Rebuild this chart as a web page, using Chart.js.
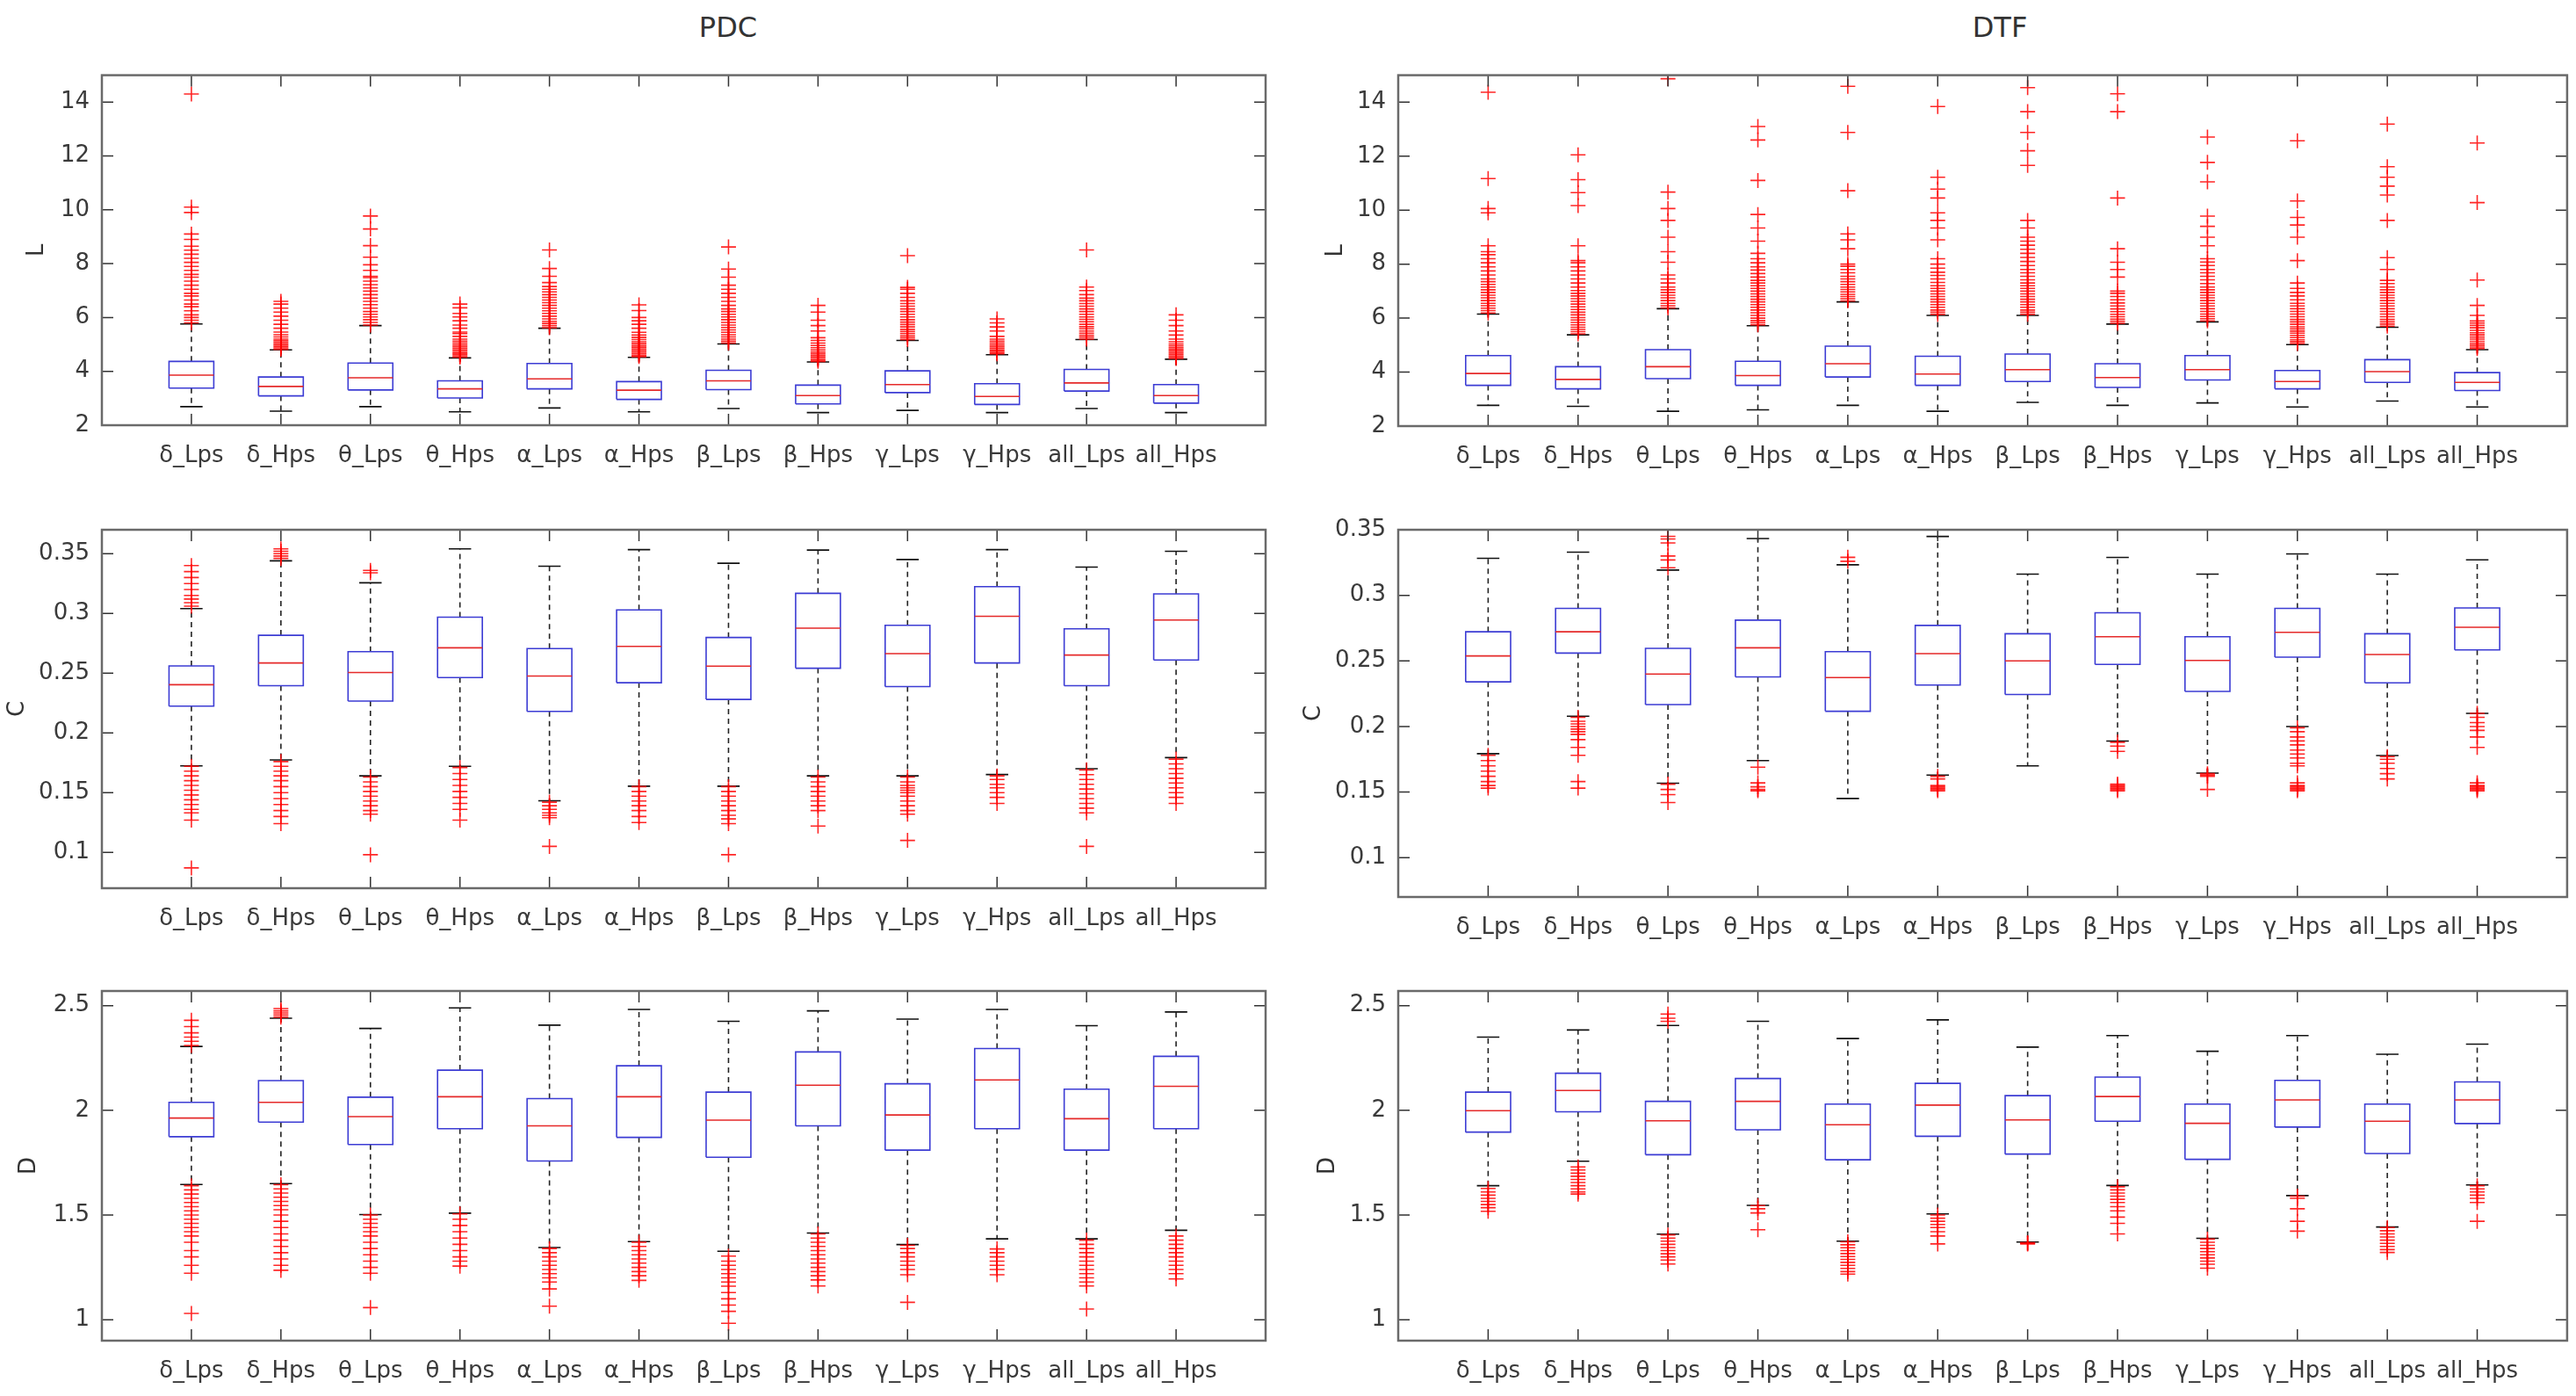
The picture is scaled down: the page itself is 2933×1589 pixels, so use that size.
<!DOCTYPE html>
<html>
<head>
<meta charset="utf-8">
<script src="https://cdn.jsdelivr.net/npm/chart.js@4.4.0/dist/chart.umd.min.js"></script>
<style>
  html, body { margin: 0; padding: 0; background: #fff; }
  body { width: 2933px; height: 1589px; position: relative; overflow: hidden; font-family: "DejaVu Sans", sans-serif; }
  canvas { position: absolute; }
  .title { position: absolute; top: 10px; font-size: 32px; line-height: 42px; color: #333; transform: translateX(-50%); }
</style>
</head>
<body>
<div class="title" style="left:829px">PDC</div>
<div class="title" style="left:2277px">DTF</div>
<canvas id="c0"></canvas>
<canvas id="c1"></canvas>
<canvas id="c2"></canvas>
<canvas id="c3"></canvas>
<canvas id="c4"></canvas>
<canvas id="c5"></canvas>
<script>
const CATS = ["δ_Lps", "δ_Hps", "θ_Lps", "θ_Hps", "α_Lps", "α_Hps", "β_Lps", "β_Hps", "γ_Lps", "γ_Hps", "all_Lps", "all_Hps"];

const L_TICKS = [2, 4, 6, 8, 10, 12, 14];
const C_TICKS = [0.1, 0.15, 0.2, 0.25, 0.3, 0.35];
const D_TICKS = [1, 1.5, 2, 2.5];

// each row: [lower whisker, q1, median, q3, upper whisker]
const PDC_L_STATS = [
  [2.69, 3.38, 3.86, 4.37, 5.76], [2.52, 3.09, 3.44, 3.79, 4.8], [2.69, 3.31, 3.76, 4.31, 5.7],
  [2.5, 3.01, 3.35, 3.65, 4.5], [2.64, 3.35, 3.72, 4.29, 5.6], [2.5, 2.96, 3.3, 3.62, 4.52],
  [2.62, 3.32, 3.65, 4.04, 5.02], [2.47, 2.79, 3.1, 3.49, 4.35], [2.55, 3.21, 3.51, 4.02, 5.15],
  [2.47, 2.77, 3.07, 3.54, 4.62], [2.62, 3.27, 3.57, 4.07, 5.18], [2.47, 2.82, 3.1, 3.51, 4.45]
];
const PDC_L_OUT = [
  [5.8, 5.9, 6.0, 6.1, 6.25, 6.4, 6.5, 6.65, 6.8, 6.9, 7.05, 7.2, 7.35, 7.5, 7.6, 7.75, 7.9, 8.05, 8.2, 8.35, 8.5, 8.65, 8.9, 9.1, 9.9, 10.1, 14.3],
  [4.82, 4.87, 4.92, 4.97, 5.02, 5.08, 5.14, 5.2, 5.28, 5.36, 5.46, 5.6, 5.75, 5.9, 6.05, 6.2, 6.35, 6.5, 6.6],
  [5.72, 5.82, 5.92, 6.02, 6.12, 6.22, 6.35, 6.48, 6.6, 6.72, 6.85, 6.98, 7.1, 7.22, 7.35, 7.48, 7.53, 7.75, 7.96, 8.24, 8.67, 9.29, 9.77],
  [4.53, 4.58, 4.63, 4.68, 4.74, 4.8, 4.86, 4.92, 4.98, 5.05, 5.12, 5.2, 5.3, 5.4, 5.46, 5.6, 5.72, 5.88, 6.02, 6.15, 6.36, 6.5],
  [5.62, 5.7, 5.78, 5.86, 5.95, 6.05, 6.15, 6.25, 6.35, 6.45, 6.55, 6.65, 6.75, 6.85, 6.95, 7.05, 7.15, 7.3, 7.53, 7.82, 8.51],
  [4.55, 4.6, 4.66, 4.72, 4.78, 4.84, 4.9, 4.96, 5.03, 5.1, 5.18, 5.26, 5.35, 5.45, 5.6, 5.75, 5.88, 6.0, 6.26, 6.47],
  [5.05, 5.12, 5.2, 5.28, 5.36, 5.45, 5.54, 5.63, 5.72, 5.82, 5.92, 6.02, 6.12, 6.22, 6.32, 6.45, 6.6, 6.75, 6.9, 7.05, 7.2, 7.5, 7.8, 8.62],
  [4.37, 4.42, 4.48, 4.54, 4.6, 4.66, 4.72, 4.8, 4.88, 4.96, 5.05, 5.15, 5.25, 5.5, 5.7, 5.9, 6.2, 6.45],
  [5.18, 5.25, 5.32, 5.4, 5.48, 5.56, 5.65, 5.74, 5.83, 5.92, 6.02, 6.12, 6.22, 6.32, 6.42, 6.52, 6.62, 6.75, 6.9, 7.05, 7.12, 8.3],
  [4.65, 4.7, 4.75, 4.8, 4.86, 4.92, 4.98, 5.05, 5.12, 5.2, 5.3, 5.5, 5.65, 5.8, 5.95],
  [5.2, 5.27, 5.34, 5.42, 5.5, 5.58, 5.66, 5.75, 5.84, 5.93, 6.02, 6.12, 6.22, 6.32, 6.42, 6.52, 6.62, 6.72, 6.85, 7.0, 7.13, 8.51],
  [4.48, 4.53, 4.58, 4.64, 4.7, 4.76, 4.82, 4.88, 4.95, 5.02, 5.1, 5.2, 5.35, 5.5, 5.7, 5.9, 6.1]
];

const DTF_L_STATS = [
  [2.77, 3.51, 3.95, 4.61, 6.15], [2.73, 3.38, 3.73, 4.2, 5.38], [2.55, 3.76, 4.2, 4.83, 6.35],
  [2.6, 3.51, 3.87, 4.4, 5.72], [2.77, 3.82, 4.31, 4.96, 6.6], [2.55, 3.51, 3.93, 4.59, 6.1],
  [2.88, 3.65, 4.09, 4.67, 6.1], [2.77, 3.43, 3.8, 4.31, 5.78], [2.86, 3.71, 4.09, 4.61, 5.86],
  [2.71, 3.38, 3.65, 4.06, 5.02], [2.93, 3.62, 4.02, 4.46, 5.66], [2.71, 3.32, 3.62, 3.98, 4.83]
];
const DTF_L_OUT = [
  [6.19, 6.28, 6.37, 6.46, 6.55, 6.65, 6.75, 6.85, 6.95, 7.05, 7.15, 7.25, 7.35, 7.45, 7.6, 7.75, 7.9, 8.05, 8.2, 8.35, 8.46, 8.68, 9.9, 10.06, 11.17, 14.37],
  [5.42, 5.5, 5.58, 5.66, 5.75, 5.84, 5.93, 6.02, 6.12, 6.22, 6.32, 6.42, 6.52, 6.62, 6.72, 6.82, 6.92, 7.02, 7.15, 7.3, 7.45, 7.6, 7.75, 7.9, 8.05, 8.13, 8.68, 10.17, 10.65, 11.13, 12.05],
  [6.38, 6.46, 6.55, 6.65, 6.75, 6.85, 6.95, 7.05, 7.15, 7.3, 7.45, 7.6, 8.07, 8.46, 9.0, 9.62, 10.06, 10.67, 14.87],
  [5.75, 5.83, 5.91, 6.0, 6.1, 6.2, 6.3, 6.4, 6.5, 6.6, 6.7, 6.8, 6.9, 7.0, 7.1, 7.2, 7.3, 7.4, 7.52, 7.65, 7.78, 7.9, 8.05, 8.2, 8.4, 8.85, 9.34, 9.84, 11.1, 12.6, 13.1],
  [6.64, 6.72, 6.8, 6.88, 6.97, 7.06, 7.15, 7.25, 7.35, 7.45, 7.55, 7.68, 7.8, 7.92, 8.0, 8.57, 8.9, 9.12, 10.72, 12.88, 14.59],
  [6.14, 6.22, 6.3, 6.4, 6.5, 6.6, 6.7, 6.8, 6.9, 7.0, 7.1, 7.2, 7.32, 7.45, 7.58, 7.7, 7.85, 8.0, 8.2, 8.9, 9.34, 9.62, 9.9, 10.45, 10.78, 11.22, 13.84],
  [6.14, 6.22, 6.3, 6.4, 6.5, 6.6, 6.7, 6.8, 6.9, 7.0, 7.1, 7.2, 7.3, 7.42, 7.55, 7.68, 7.8, 7.95, 8.1, 8.25, 8.4, 8.55, 8.7, 8.85, 9.0, 9.34, 9.62, 11.66, 12.2, 12.88, 13.65, 14.54],
  [5.81, 5.88, 5.96, 6.05, 6.14, 6.24, 6.34, 6.45, 6.56, 6.68, 6.8, 6.92, 7.0, 7.52, 7.8, 8.07, 8.57, 10.45, 13.65, 14.31],
  [5.9, 5.98, 6.06, 6.15, 6.25, 6.35, 6.45, 6.55, 6.65, 6.75, 6.85, 6.95, 7.05, 7.15, 7.28, 7.42, 7.55, 7.68, 7.8, 7.95, 8.08, 8.2, 8.68, 9.0, 9.4, 9.78, 11.05, 11.77, 12.71],
  [5.06, 5.13, 5.2, 5.28, 5.36, 5.44, 5.52, 5.6, 5.68, 5.77, 5.86, 5.95, 6.05, 6.15, 6.25, 6.35, 6.45, 6.55, 6.68, 6.82, 6.95, 7.1, 7.3, 8.13, 9.0, 9.45, 9.73, 10.34, 12.57],
  [5.7, 5.78, 5.86, 5.95, 6.05, 6.15, 6.25, 6.35, 6.45, 6.55, 6.65, 6.75, 6.85, 6.95, 7.05, 7.15, 7.28, 7.4, 7.8, 8.24, 9.62, 10.56, 10.89, 11.22, 11.61, 13.19],
  [4.87, 4.93, 5.0, 5.07, 5.14, 5.22, 5.3, 5.38, 5.46, 5.55, 5.64, 5.73, 5.82, 5.9, 6.1, 6.47, 7.41, 10.28, 12.49]
];

const PDC_C_STATS = [
  [0.1724, 0.2224, 0.2403, 0.256, 0.304], [0.1773, 0.2395, 0.2585, 0.2817, 0.344], [0.164, 0.2266, 0.2505, 0.268, 0.3256],
  [0.172, 0.2463, 0.2712, 0.2968, 0.354], [0.1432, 0.218, 0.2476, 0.2705, 0.3395], [0.1554, 0.242, 0.2724, 0.3029, 0.3534],
  [0.1554, 0.228, 0.2559, 0.2798, 0.342], [0.164, 0.2541, 0.2876, 0.3168, 0.353], [0.164, 0.2388, 0.2663, 0.29, 0.3451],
  [0.1651, 0.2585, 0.2976, 0.3224, 0.3534], [0.17, 0.2395, 0.2651, 0.2871, 0.3388], [0.1793, 0.261, 0.2944, 0.3163, 0.352]
];
const PDC_C_OUT = [
  [0.172, 0.168, 0.164, 0.16, 0.156, 0.152, 0.148, 0.144, 0.14, 0.136, 0.133, 0.127, 0.087, 0.306, 0.309, 0.312, 0.315, 0.32, 0.325, 0.33, 0.335, 0.34],
  [0.176, 0.172, 0.168, 0.164, 0.16, 0.155, 0.15, 0.145, 0.14, 0.135, 0.13, 0.124, 0.346, 0.348, 0.35, 0.352, 0.354],
  [0.163, 0.159, 0.155, 0.151, 0.147, 0.143, 0.139, 0.135, 0.132, 0.098, 0.334, 0.336],
  [0.171, 0.166, 0.161, 0.156, 0.151, 0.146, 0.141, 0.136, 0.127],
  [0.142, 0.139, 0.136, 0.133, 0.131, 0.129, 0.105],
  [0.155, 0.151, 0.147, 0.143, 0.139, 0.135, 0.13, 0.125],
  [0.155, 0.151, 0.147, 0.143, 0.139, 0.135, 0.131, 0.128, 0.124, 0.098],
  [0.163, 0.159, 0.155, 0.151, 0.147, 0.143, 0.139, 0.135, 0.122],
  [0.163, 0.159, 0.156, 0.154, 0.152, 0.15, 0.147, 0.143, 0.139, 0.135, 0.132, 0.11],
  [0.164, 0.161, 0.157, 0.154, 0.15, 0.146, 0.141],
  [0.169, 0.165, 0.161, 0.157, 0.153, 0.149, 0.145, 0.141, 0.137, 0.133, 0.105],
  [0.178, 0.174, 0.17, 0.166, 0.162, 0.158, 0.154, 0.15, 0.146, 0.141]
];

const DTF_C_STATS = [
  [0.1793, 0.234, 0.2538, 0.2722, 0.3282], [0.2078, 0.256, 0.2722, 0.29, 0.3329], [0.1567, 0.2167, 0.24, 0.2596, 0.3193],
  [0.174, 0.2378, 0.26, 0.2811, 0.3433], [0.1451, 0.2116, 0.2373, 0.2571, 0.3233], [0.1629, 0.2316, 0.2556, 0.2771, 0.3449],
  [0.17, 0.2244, 0.25, 0.2707, 0.3162], [0.1889, 0.2473, 0.2684, 0.2867, 0.3289], [0.1644, 0.2267, 0.2504, 0.2684, 0.3162],
  [0.2, 0.2529, 0.2718, 0.29, 0.3316], [0.1778, 0.2333, 0.2549, 0.2707, 0.3162], [0.21, 0.2584, 0.2756, 0.2904, 0.3271]
];
const DTF_C_OUT = [
  [0.178, 0.174, 0.17, 0.166, 0.162, 0.158, 0.155, 0.153],
  [0.207, 0.204, 0.202, 0.2, 0.198, 0.196, 0.194, 0.19, 0.184, 0.178, 0.158, 0.153],
  [0.156, 0.152, 0.148, 0.142, 0.321, 0.327, 0.33, 0.34, 0.343, 0.345],
  [0.169, 0.157, 0.154, 0.152, 0.151],
  [0.326, 0.329],
  [0.162, 0.16, 0.155, 0.154, 0.153, 0.152, 0.151],
  [],
  [0.188, 0.185, 0.181, 0.156, 0.155, 0.154, 0.153, 0.152, 0.151],
  [0.164, 0.163, 0.162, 0.152],
  [0.199, 0.196, 0.192, 0.189, 0.186, 0.182, 0.179, 0.176, 0.172, 0.17, 0.157, 0.155, 0.154, 0.153, 0.152, 0.151],
  [0.177, 0.175, 0.172, 0.168, 0.164, 0.16],
  [0.21, 0.207, 0.203, 0.2, 0.197, 0.192, 0.184, 0.157, 0.155, 0.154, 0.153, 0.152, 0.151]
];

const PDC_D_STATS = [
  [1.646, 1.874, 1.963, 2.038, 2.305], [1.65, 1.944, 2.038, 2.142, 2.44], [1.502, 1.837, 1.97, 2.063, 2.391],
  [1.509, 1.912, 2.065, 2.192, 2.489], [1.345, 1.758, 1.926, 2.056, 2.407], [1.373, 1.871, 2.065, 2.213, 2.482],
  [1.327, 1.776, 1.953, 2.087, 2.425], [1.414, 1.926, 2.12, 2.279, 2.475], [1.359, 1.81, 1.978, 2.127, 2.436],
  [1.386, 1.912, 2.145, 2.295, 2.482], [1.386, 1.81, 1.96, 2.101, 2.404], [1.427, 1.912, 2.115, 2.258, 2.47]
];
const PDC_D_OUT = [
  [1.64, 1.62, 1.6, 1.58, 1.56, 1.54, 1.52, 1.5, 1.48, 1.46, 1.44, 1.42, 1.4, 1.37, 1.33, 1.3, 1.26, 1.222, 1.03, 2.31, 2.33, 2.35, 2.37, 2.4, 2.43],
  [1.645, 1.625, 1.605, 1.585, 1.565, 1.545, 1.525, 1.5, 1.47, 1.44, 1.41, 1.38, 1.35, 1.32, 1.29, 1.26, 1.236, 2.445, 2.455, 2.465, 2.475, 2.486],
  [1.5, 1.48, 1.46, 1.44, 1.42, 1.4, 1.37, 1.34, 1.31, 1.28, 1.25, 1.222, 1.058],
  [1.505, 1.48, 1.45, 1.42, 1.39, 1.36, 1.33, 1.3, 1.28, 1.256],
  [1.34, 1.32, 1.3, 1.28, 1.26, 1.24, 1.22, 1.2, 1.18, 1.147, 1.065],
  [1.37, 1.35, 1.33, 1.31, 1.29, 1.27, 1.25, 1.23, 1.21, 1.188],
  [1.304, 1.28, 1.26, 1.24, 1.22, 1.2, 1.18, 1.16, 1.13, 1.1, 1.07, 1.04, 0.983],
  [1.41, 1.39, 1.37, 1.35, 1.33, 1.31, 1.29, 1.27, 1.25, 1.23, 1.21, 1.19, 1.161],
  [1.355, 1.34, 1.32, 1.3, 1.28, 1.26, 1.24, 1.215, 1.083],
  [1.338, 1.32, 1.3, 1.28, 1.26, 1.24, 1.215],
  [1.38, 1.36, 1.34, 1.32, 1.3, 1.28, 1.26, 1.24, 1.22, 1.2, 1.18, 1.161, 1.051],
  [1.4, 1.38, 1.36, 1.34, 1.32, 1.3, 1.28, 1.26, 1.24, 1.22, 1.195]
];

const DTF_D_STATS = [
  [1.64, 1.896, 1.998, 2.087, 2.35], [1.757, 1.993, 2.095, 2.177, 2.384], [1.409, 1.788, 1.95, 2.043, 2.405],
  [1.546, 1.907, 2.043, 2.152, 2.425], [1.375, 1.764, 1.931, 2.03, 2.343], [1.505, 1.876, 2.025, 2.129, 2.432],
  [1.371, 1.791, 1.954, 2.07, 2.302], [1.641, 1.948, 2.066, 2.159, 2.357], [1.389, 1.766, 1.938, 2.03, 2.282],
  [1.593, 1.92, 2.05, 2.143, 2.357], [1.443, 1.794, 1.948, 2.03, 2.268], [1.644, 1.937, 2.05, 2.136, 2.316]
];
const DTF_D_OUT = [
  [1.627, 1.61, 1.595, 1.58, 1.565, 1.55, 1.535, 1.518],
  [1.73, 1.715, 1.7, 1.685, 1.67, 1.655, 1.64, 1.625, 1.61, 1.6],
  [1.405, 1.39, 1.375, 1.36, 1.345, 1.33, 1.315, 1.3, 1.285, 1.266, 2.425, 2.44, 2.46],
  [1.545, 1.53, 1.51, 1.43],
  [1.372, 1.358, 1.344, 1.33, 1.316, 1.302, 1.288, 1.274, 1.26, 1.245, 1.23, 1.218],
  [1.5, 1.485, 1.47, 1.455, 1.44, 1.42, 1.4, 1.362],
  [1.368, 1.365, 1.362],
  [1.635, 1.62, 1.605, 1.59, 1.575, 1.56, 1.54, 1.52, 1.49, 1.46, 1.41],
  [1.385, 1.37, 1.355, 1.34, 1.325, 1.31, 1.295, 1.28, 1.265, 1.246],
  [1.59, 1.58, 1.53, 1.47, 1.423],
  [1.44, 1.425, 1.41, 1.395, 1.38, 1.365, 1.35, 1.335, 1.321],
  [1.64, 1.625, 1.61, 1.595, 1.58, 1.56, 1.47]
];

// page geometry of each panel (canvas box, plot area, y-label centre)
const panels = [
  { id: "c0", stats: PDC_L_STATS, out: PDC_L_OUT, label: "L", ticks: L_TICKS, min: 2, max: 15,
    box: [0, 56, 1466, 504], area: [116, 78, 1441, 484], labelX: 42 },
  { id: "c1", stats: DTF_L_STATS, out: DTF_L_OUT, label: "L", ticks: L_TICKS, min: 2, max: 15,
    box: [1466, 56, 1467, 504], area: [1592, 78, 2925, 485], labelX: 1521 },
  { id: "c2", stats: PDC_C_STATS, out: PDC_C_OUT, label: "C", ticks: C_TICKS, min: 0.07, max: 0.37,
    box: [0, 560, 1466, 520], area: [116, 603, 1441, 1011], labelX: 20 },
  { id: "c3", stats: DTF_C_STATS, out: DTF_C_OUT, label: "C", ticks: C_TICKS, min: 0.07, max: 0.35,
    box: [1466, 560, 1467, 520], area: [1592, 603, 2925, 1021], labelX: 1496 },
  { id: "c4", stats: PDC_D_STATS, out: PDC_D_OUT, label: "D", ticks: D_TICKS, min: 0.9, max: 2.57,
    box: [0, 1080, 1466, 509], area: [116, 1128, 1441, 1526], labelX: 33 },
  { id: "c5", stats: DTF_D_STATS, out: DTF_D_OUT, label: "D", ticks: D_TICKS, min: 0.9, max: 2.57,
    box: [1466, 1080, 1467, 509], area: [1592, 1128, 2925, 1526], labelX: 1512 }
];

const HALF = 0.25;   // half box width, in category units
const CAP = 0.125;   // half whisker-cap width
const TITLE_SIZE = 26;
const TITLE_LH = TITLE_SIZE * 1.2;

Chart.defaults.font.family = '"DejaVu Sans", sans-serif';
Chart.defaults.color = "#333";

// axes box with inward ticks on all four sides, like the original figure
const framePlugin = {
  id: "frame",
  afterDraw(chart) {
    const { ctx, chartArea: a, scales: { x, y } } = chart;
    const len = 13;
    ctx.save();
    ctx.strokeStyle = "#333";
    ctx.lineWidth = 1.5;
    ctx.beginPath();
    x.ticks.forEach(t => {
      const px = x.getPixelForValue(t.value);
      ctx.moveTo(px, a.bottom); ctx.lineTo(px, a.bottom - len);
      ctx.moveTo(px, a.top); ctx.lineTo(px, a.top + len);
    });
    y.ticks.forEach(t => {
      const py = y.getPixelForValue(t.value);
      ctx.moveTo(a.left, py); ctx.lineTo(a.left + len, py);
      ctx.moveTo(a.right, py); ctx.lineTo(a.right - len, py);
    });
    ctx.stroke();
    ctx.strokeStyle = "#6a6a6a";
    ctx.lineWidth = 2.5;
    ctx.strokeRect(a.left, a.top, a.right - a.left, a.bottom - a.top);
    ctx.restore();
  }
};

function makeChart(p) {
  const [cx, cy, cw, ch] = p.box;
  const [L, T, R, B] = p.area;
  const canvas = document.getElementById(p.id);
  canvas.width = cw;
  canvas.height = ch;
  canvas.style.left = cx + "px";
  canvas.style.top = cy + "px";
  canvas.style.width = cw + "px";
  canvas.style.height = ch + "px";

  const padLeft = p.labelX - cx - TITLE_LH / 2;
  const yWidth = L - cx - padLeft;
  const xHeight = cy + ch - B;

  const whiskers = [], caps = [], boxes = [], medians = [], outliers = [];
  p.stats.forEach(([lo, q1, med, q3, hi], i) => {
    const x = i + 1;
    whiskers.push({ x, y: q3 }, { x, y: hi }, { x, y: null }, { x, y: q1 }, { x, y: lo }, { x, y: null });
    caps.push({ x: x - CAP, y: hi }, { x: x + CAP, y: hi }, { x, y: null },
              { x: x - CAP, y: lo }, { x: x + CAP, y: lo }, { x, y: null });
    boxes.push({ x: x - HALF, y: q1 }, { x: x + HALF, y: q1 }, { x: x + HALF, y: q3 },
               { x: x - HALF, y: q3 }, { x: x - HALF, y: q1 }, { x, y: null });
    medians.push({ x: x - HALF, y: med }, { x: x + HALF, y: med }, { x, y: null });
    p.out[i].forEach(v => outliers.push({ x, y: v }));
  });

  const seg = (data, color, dash) => ({
    type: "line", data, borderColor: color, borderWidth: 1.6, borderDash: dash || [],
    pointRadius: 0, fill: false, tension: 0, spanGaps: false
  });

  new Chart(canvas, {
    data: {
      datasets: [
        { type: "scatter", data: outliers, pointStyle: "cross", pointRadius: 8.5,
          pointBorderWidth: 1.6, pointBorderColor: "rgba(255,0,0,0.85)", pointBackgroundColor: "rgba(0,0,0,0)" },
        seg(medians, "#e52a2a"),
        seg(boxes, "#3c3cd4"),
        seg(caps, "#111"),
        seg(whiskers, "#222", [6, 5])
      ]
    },
    options: {
      responsive: false,
      animation: false,
      events: [],
      layout: { padding: { left: padLeft, top: T - cy, right: cx + cw - R, bottom: 0 } },
      plugins: { legend: { display: false }, tooltip: { enabled: false } },
      scales: {
        x: {
          type: "linear", min: 0, max: 13,
          grid: { display: false, drawTicks: false },
          border: { display: false },
          afterBuildTicks: s => { s.ticks = CATS.map((c, i) => ({ value: i + 1 })); },
          afterFit: s => { s.height = xHeight; },
          ticks: { autoSkip: false, maxRotation: 0, padding: 20, font: { size: 26 }, color: "#3a3a3a",
                   callback: v => CATS[v - 1] }
        },
        y: {
          type: "linear", min: p.min, max: p.max,
          grid: { display: false, drawTicks: false },
          border: { display: false },
          afterBuildTicks: s => { s.ticks = p.ticks.map(v => ({ value: v })); },
          afterFit: s => { s.width = yWidth; },
          ticks: { padding: 14, font: { size: 26 }, color: "#3a3a3a",
                   callback: v => String(Math.round(v * 1000) / 1000) },
          title: { display: true, text: p.label, padding: 0, color: "#333", font: { size: TITLE_SIZE } }
        }
      }
    },
    plugins: [framePlugin]
  });
}

panels.forEach(makeChart);
</script>
</body>
</html>
